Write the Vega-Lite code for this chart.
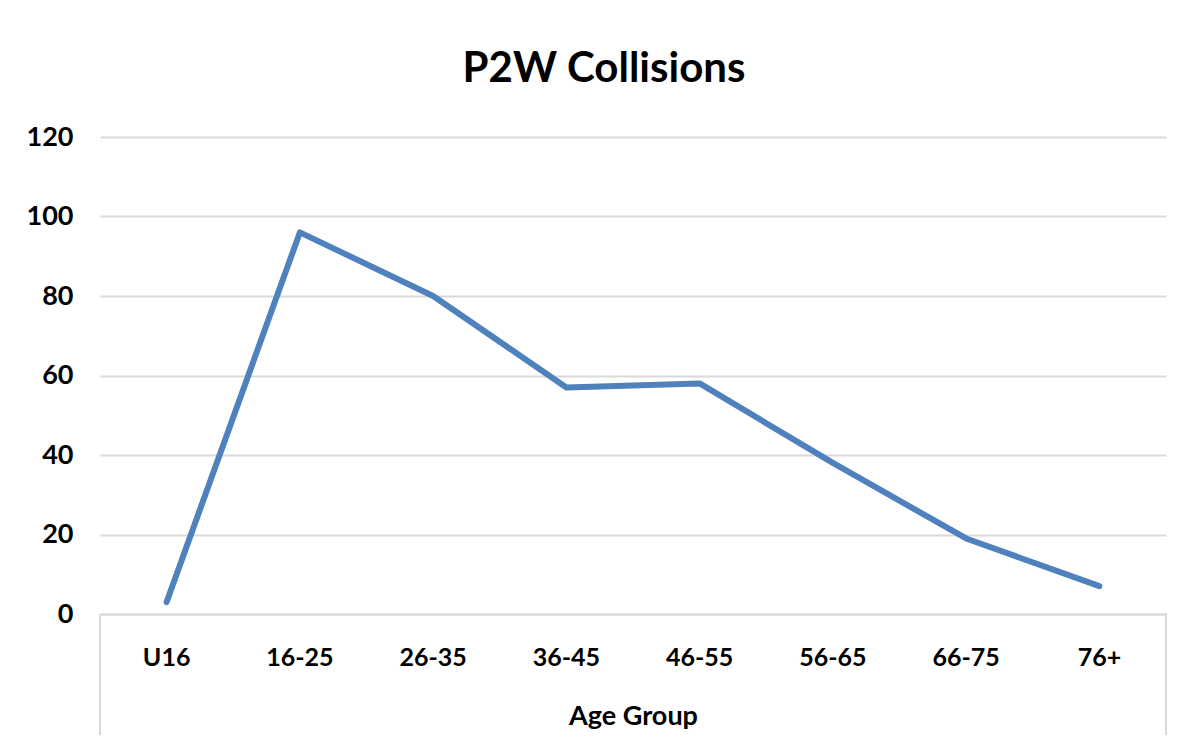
{
  "$schema": "https://vega.github.io/schema/vega-lite/v6.json",
  "width": 1066,
  "height": 477,
  "autosize": {"type": "none"},
  "padding": {"left": 100, "top": 137, "right": 33, "bottom": 135},
  "background": "white",
  "title": {
    "text": "P2W Collisions",
    "font": "Lato",
    "fontSize": 42,
    "fontWeight": "bold",
    "color": "#000000",
    "anchor": "middle",
    "baseline": "middle",
    "offset": 12,
    "dx": -29
  },
  "data": {
    "values": [
      {"age": "U16", "count": 3},
      {"age": "16-25", "count": 96},
      {"age": "26-35", "count": 80},
      {"age": "36-45", "count": 57},
      {"age": "46-55", "count": 58},
      {"age": "56-65", "count": 38},
      {"age": "66-75", "count": 19},
      {"age": "76+", "count": 7}
    ]
  },
  "encoding": {
    "x": {
      "field": "age",
      "type": "ordinal",
      "sort": null,
      "title": "Age Group",
      "scale": {"type": "band", "paddingInner": 0, "paddingOuter": 0},
      "axis": {
        "labelAngle": 0,
        "labelFont": "Lato",
        "labelFontSize": 25,
        "labelFontWeight": "bold",
        "labelColor": "#000000",
        "labelBaseline": "middle",
        "labelPadding": 43,
        "domainColor": "#d9d9d9",
        "domainWidth": 2,
        "ticks": false,
        "titleFont": "Lato",
        "titleFontSize": 27,
        "titleFontWeight": "bold",
        "titleColor": "#000000",
        "titleBaseline": "middle",
        "titleY": 102,
        "titleX": 533
      }
    },
    "y": {
      "field": "count",
      "type": "quantitative",
      "title": null,
      "scale": {"domain": [0, 120]},
      "axis": {
        "values": [0, 20, 40, 60, 80, 100, 120],
        "domain": false,
        "ticks": false,
        "labelFont": "Lato",
        "labelFontSize": 27,
        "labelFontWeight": "bold",
        "labelColor": "#000000",
        "labelPadding": 27,
        "gridColor": "#d9d9d9",
        "gridWidth": 2
      }
    }
  },
  "layer": [
    {
      "mark": {"type": "line", "color": "#4F81BD", "strokeWidth": 6, "strokeCap": "round", "strokeJoin": "round"}
    },
    {
      "mark": {"type": "rule", "color": "#d9d9d9", "strokeWidth": 2, "clip": false},
      "encoding": {
        "x": {"datum": "U16", "bandPosition": 0},
        "y": {"datum": 0},
        "y2": {"datum": -30.4}
      }
    },
    {
      "mark": {"type": "rule", "color": "#d9d9d9", "strokeWidth": 2, "clip": false},
      "encoding": {
        "x": {"datum": "76+", "bandPosition": 1},
        "y": {"datum": 0},
        "y2": {"datum": -30.4}
      }
    }
  ],
  "config": {"view": {"stroke": null}}
}
